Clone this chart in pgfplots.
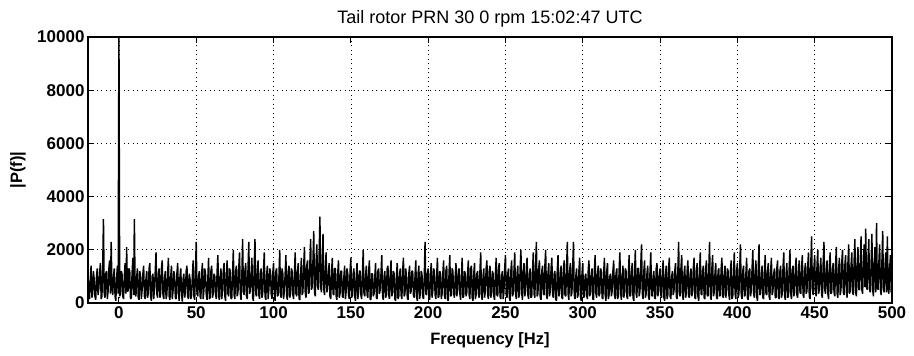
\documentclass[border=0pt]{standalone}
\usepackage{pgfplots}
\pgfplotsset{compat=1.18}
\usepackage{fontspec}
\setmainfont{Liberation Sans}
\begin{document}
\begin{tikzpicture}[x=1pt,y=1pt]
\path[use as bounding box] (0,0) rectangle (914,356);
\begin{axis}[
  at={(88pt,53pt)}, anchor=south west,
  scale only axis, width=804pt, height=266pt,
  xmin=-20, xmax=500, ymin=0, ymax=10000,
  xtick={0,50,...,500}, ytick={0,2000,...,10000},
  scaled y ticks=false,
  grid=major,
  major grid style={black, line width=0.6pt, dash pattern=on 1pt off 3.5pt},
  axis line style={black, line width=1.3pt},
  tick align=inside, major tick length=6pt,
  tick style={black, line width=1pt},
  /pgf/number format/assume math mode=true,
  /pgf/number format/1000 sep={},
  ticklabel style={font=\fontsize{17}{20}\selectfont\bfseries},
  label style={font=\fontsize{16.5}{20}\selectfont\bfseries},
  title style={font=\fontsize{18}{21}\selectfont, at={(axis description cs:0.5,1.044)}, anchor=center},
  title={Tail rotor PRN 30 0 rpm 15:02:47 UTC},
  xlabel={Frequency [Hz]},
  ylabel={|P(f)|},
  xlabel style={at={(axis description cs:0.5,-0.139)}, anchor=center},
  ylabel style={at={(axis description cs:-0.087,0.5)}, anchor=center},
  clip=true,
]
\addplot[black, line width=1.45pt, line join=miter, miter limit=1] table[row sep=\\, header=false, x expr=\coordindex*0.5-20, y index=0] {
1100\\ 450\\ 150\\ 900\\ 1400\\ 200\\ 350\\ 1200\\ 900\\ 250\\ 120\\ 1000\\ 1300\\ 300\\ 550\\ 1100\\ 1500\\ 150\\ 250\\ 1300\\
3150\\ 350\\ 200\\ 1100\\ 1200\\ 150\\ 450\\ 1300\\ 1600\\ 350\\ 2300\\ 550\\ 300\\ 1000\\ 1300\\ 250\\ 80\\ 900\\ 1400\\ 350\\
10500\\ 250\\ 350\\ 1200\\ 1100\\ 250\\ 150\\ 1000\\ 1500\\ 350\\ 2100\\ 450\\ 450\\ 1300\\ 1200\\ 150\\ 200\\ 1100\\ 1700\\ 300\\
3150\\ 350\\ 250\\ 1000\\ 1300\\ 200\\ 120\\ 1200\\ 1000\\ 150\\ 500\\ 1100\\ 1400\\ 250\\ 150\\ 900\\ 1200\\ 200\\ 350\\ 1300\\
1500\\ 250\\ 80\\ 1000\\ 1100\\ 150\\ 550\\ 1200\\ 1900\\ 350\\ 200\\ 1100\\ 1300\\ 200\\ 350\\ 1300\\ 1600\\ 300\\ 150\\ 900\\
1200\\ 150\\ 300\\ 1100\\ 1700\\ 250\\ 120\\ 1000\\ 1400\\ 150\\ 450\\ 1200\\ 1000\\ 200\\ 150\\ 1100\\ 1500\\ 350\\ 80\\ 1000\\
1300\\ 350\\ 50\\ 900\\ 1100\\ 200\\ 400\\ 1200\\ 1400\\ 250\\ 150\\ 1100\\ 900\\ 150\\ 300\\ 1000\\ 1600\\ 250\\ 120\\ 1200\\
2300\\ 350\\ 250\\ 1000\\ 1200\\ 250\\ 150\\ 1100\\ 1500\\ 150\\ 500\\ 1300\\ 1100\\ 300\\ 120\\ 900\\ 1700\\ 150\\ 200\\ 1200\\
1400\\ 200\\ 350\\ 1100\\ 1000\\ 300\\ 150\\ 1200\\ 1800\\ 250\\ 120\\ 1000\\ 1300\\ 150\\ 450\\ 1200\\ 1500\\ 250\\ 80\\ 1100\\
1600\\ 350\\ 250\\ 1300\\ 1200\\ 150\\ 200\\ 1100\\ 2000\\ 300\\ 150\\ 1200\\ 1400\\ 250\\ 400\\ 1300\\ 1900\\ 350\\ 120\\ 1000\\
2400\\ 450\\ 300\\ 1200\\ 1500\\ 250\\ 150\\ 1300\\ 2300\\ 350\\ 450\\ 1100\\ 1700\\ 200\\ 80\\ 1400\\ 2400\\ 350\\ 250\\ 1200\\
1600\\ 300\\ 150\\ 1100\\ 1300\\ 200\\ 350\\ 1200\\ 1900\\ 250\\ 120\\ 1000\\ 1400\\ 150\\ 500\\ 1300\\ 1200\\ 350\\ 150\\ 1100\\
1500\\ 350\\ 80\\ 1200\\ 1300\\ 250\\ 300\\ 1000\\ 2000\\ 300\\ 200\\ 1300\\ 1100\\ 150\\ 450\\ 1100\\ 1800\\ 250\\ 120\\ 1200\\
1400\\ 200\\ 350\\ 1300\\ 1200\\ 300\\ 150\\ 1100\\ 1900\\ 350\\ 250\\ 1200\\ 1500\\ 150\\ 120\\ 1000\\ 1700\\ 300\\ 400\\ 1400\\
2100\\ 400\\ 200\\ 1400\\ 1600\\ 350\\ 400\\ 1500\\ 2400\\ 500\\ 600\\ 1600\\ 2700\\ 400\\ 250\\ 1500\\ 2200\\ 600\\ 500\\ 1800\\
3250\\ 600\\ 400\\ 1500\\ 2600\\ 500\\ 300\\ 1300\\ 1900\\ 400\\ 550\\ 1200\\ 1500\\ 250\\ 150\\ 1100\\ 1700\\ 350\\ 300\\ 1300\\
1300\\ 250\\ 120\\ 1100\\ 1600\\ 200\\ 350\\ 1200\\ 1200\\ 250\\ 200\\ 1000\\ 1400\\ 150\\ 450\\ 1300\\ 1100\\ 300\\ 150\\ 1200\\
1700\\ 200\\ 300\\ 1100\\ 1300\\ 250\\ 80\\ 1000\\ 1500\\ 150\\ 400\\ 1200\\ 1200\\ 300\\ 150\\ 1100\\ 2000\\ 350\\ 250\\ 1000\\
1400\\ 300\\ 200\\ 1200\\ 1600\\ 150\\ 120\\ 1100\\ 1100\\ 250\\ 350\\ 1000\\ 1500\\ 200\\ 150\\ 1200\\ 1300\\ 350\\ 500\\ 1100\\
1800\\ 250\\ 120\\ 1000\\ 1200\\ 200\\ 300\\ 1300\\ 1400\\ 300\\ 150\\ 1100\\ 1600\\ 250\\ 400\\ 1200\\ 1100\\ 150\\ 80\\ 1000\\
1500\\ 150\\ 250\\ 1100\\ 1300\\ 300\\ 150\\ 1200\\ 1700\\ 250\\ 350\\ 1300\\ 1000\\ 200\\ 120\\ 1100\\ 1400\\ 350\\ 450\\ 1200\\
1200\\ 300\\ 200\\ 1000\\ 1600\\ 250\\ 80\\ 1100\\ 1400\\ 150\\ 400\\ 1200\\ 1100\\ 250\\ 150\\ 1000\\ 2300\\ 350\\ 300\\ 1100\\
1300\\ 250\\ 120\\ 1100\\ 1500\\ 200\\ 450\\ 1300\\ 1200\\ 300\\ 150\\ 1000\\ 1700\\ 200\\ 250\\ 1200\\ 1100\\ 150\\ 350\\ 1100\\
1600\\ 300\\ 150\\ 1200\\ 1400\\ 150\\ 80\\ 1100\\ 1800\\ 250\\ 300\\ 1300\\ 1200\\ 350\\ 200\\ 1000\\ 1500\\ 250\\ 450\\ 1200\\
1300\\ 350\\ 120\\ 1000\\ 1700\\ 200\\ 250\\ 1200\\ 1100\\ 250\\ 400\\ 1100\\ 1600\\ 300\\ 150\\ 1300\\ 1400\\ 200\\ 80\\ 1100\\
1500\\ 150\\ 300\\ 1100\\ 1200\\ 350\\ 200\\ 1200\\ 1900\\ 250\\ 120\\ 1000\\ 1300\\ 200\\ 450\\ 1300\\ 1600\\ 300\\ 150\\ 1200\\
1400\\ 200\\ 350\\ 1200\\ 1100\\ 250\\ 120\\ 1100\\ 1700\\ 300\\ 250\\ 1300\\ 1500\\ 250\\ 150\\ 1000\\ 1200\\ 150\\ 400\\ 1300\\
1800\\ 300\\ 200\\ 1100\\ 1300\\ 200\\ 80\\ 1200\\ 1600\\ 250\\ 350\\ 1200\\ 1900\\ 350\\ 150\\ 1100\\ 1400\\ 200\\ 300\\ 1300\\
2000\\ 350\\ 120\\ 1200\\ 1500\\ 250\\ 450\\ 1300\\ 1700\\ 300\\ 150\\ 1100\\ 1300\\ 200\\ 250\\ 1200\\ 1900\\ 350\\ 200\\ 1400\\
2300\\ 250\\ 350\\ 1300\\ 1600\\ 200\\ 120\\ 1200\\ 1400\\ 350\\ 300\\ 1400\\ 2000\\ 300\\ 150\\ 1100\\ 1500\\ 250\\ 450\\ 1300\\
1700\\ 300\\ 200\\ 1100\\ 1200\\ 150\\ 80\\ 1200\\ 1800\\ 250\\ 350\\ 1100\\ 1400\\ 200\\ 150\\ 1300\\ 1600\\ 300\\ 250\\ 1200\\
2300\\ 350\\ 120\\ 1200\\ 1500\\ 250\\ 400\\ 1400\\ 2300\\ 300\\ 150\\ 1000\\ 1300\\ 200\\ 300\\ 1200\\ 1700\\ 250\\ 80\\ 1100\\
1500\\ 200\\ 250\\ 1000\\ 1100\\ 300\\ 150\\ 1200\\ 1600\\ 250\\ 400\\ 1100\\ 1300\\ 150\\ 120\\ 1200\\ 1800\\ 350\\ 200\\ 1100\\
1400\\ 250\\ 350\\ 1300\\ 1200\\ 200\\ 150\\ 1100\\ 1700\\ 300\\ 80\\ 1200\\ 1500\\ 150\\ 300\\ 1000\\ 1100\\ 250\\ 450\\ 1200\\
1600\\ 300\\ 150\\ 1100\\ 1300\\ 150\\ 250\\ 1200\\ 1900\\ 350\\ 120\\ 1000\\ 1400\\ 200\\ 400\\ 1300\\ 1200\\ 250\\ 150\\ 1100\\
1800\\ 250\\ 300\\ 1200\\ 1500\\ 200\\ 80\\ 1100\\ 2000\\ 350\\ 200\\ 1300\\ 1300\\ 250\\ 450\\ 1400\\ 2200\\ 350\\ 150\\ 1200\\
1600\\ 200\\ 350\\ 1100\\ 1400\\ 250\\ 120\\ 1200\\ 1900\\ 300\\ 250\\ 1000\\ 1200\\ 200\\ 150\\ 1300\\ 1500\\ 250\\ 400\\ 1100\\
1300\\ 300\\ 200\\ 1200\\ 1600\\ 200\\ 80\\ 1100\\ 1400\\ 150\\ 300\\ 1300\\ 1700\\ 250\\ 150\\ 1000\\ 1200\\ 300\\ 450\\ 1200\\
1500\\ 250\\ 150\\ 1200\\ 2300\\ 350\\ 250\\ 1300\\ 1800\\ 300\\ 120\\ 1100\\ 1400\\ 200\\ 350\\ 1200\\ 1600\\ 250\\ 200\\ 1100\\
1300\\ 250\\ 400\\ 1300\\ 1700\\ 200\\ 150\\ 1200\\ 1500\\ 250\\ 80\\ 1100\\ 1900\\ 350\\ 300\\ 1200\\ 1400\\ 200\\ 150\\ 1300\\
1600\\ 300\\ 250\\ 1200\\ 2300\\ 350\\ 120\\ 1300\\ 1800\\ 250\\ 400\\ 1100\\ 1500\\ 200\\ 150\\ 1200\\ 1300\\ 250\\ 300\\ 1300\\
1700\\ 250\\ 200\\ 1100\\ 1400\\ 200\\ 450\\ 1300\\ 1200\\ 300\\ 120\\ 1200\\ 1600\\ 150\\ 250\\ 1100\\ 1900\\ 350\\ 150\\ 1200\\
1500\\ 200\\ 350\\ 1300\\ 2200\\ 300\\ 150\\ 1200\\ 1400\\ 250\\ 300\\ 1100\\ 1700\\ 200\\ 120\\ 1200\\ 1300\\ 250\\ 450\\ 1300\\
2000\\ 350\\ 200\\ 1200\\ 1600\\ 250\\ 80\\ 1300\\ 2200\\ 300\\ 350\\ 1100\\ 1400\\ 200\\ 150\\ 1200\\ 1800\\ 350\\ 300\\ 1200\\
1500\\ 250\\ 120\\ 1200\\ 1700\\ 300\\ 450\\ 1100\\ 1300\\ 200\\ 200\\ 1300\\ 1600\\ 250\\ 150\\ 1200\\ 1400\\ 200\\ 350\\ 1300\\
1900\\ 300\\ 120\\ 1100\\ 1500\\ 200\\ 250\\ 1300\\ 2000\\ 350\\ 150\\ 1200\\ 1400\\ 250\\ 400\\ 1300\\ 1700\\ 300\\ 200\\ 1200\\
1600\\ 400\\ 350\\ 1300\\ 1800\\ 300\\ 200\\ 1200\\ 1500\\ 350\\ 450\\ 1400\\ 1900\\ 250\\ 150\\ 1500\\ 2500\\ 500\\ 300\\ 1300\\
1800\\ 400\\ 250\\ 1400\\ 2000\\ 350\\ 500\\ 1300\\ 1700\\ 300\\ 200\\ 1500\\ 2300\\ 500\\ 350\\ 1200\\ 1600\\ 350\\ 150\\ 1400\\
1900\\ 350\\ 400\\ 1300\\ 1500\\ 400\\ 250\\ 1400\\ 2100\\ 350\\ 200\\ 1300\\ 1700\\ 300\\ 500\\ 1500\\ 2000\\ 400\\ 300\\ 1400\\
1800\\ 400\\ 200\\ 1500\\ 2200\\ 350\\ 450\\ 1400\\ 1900\\ 400\\ 300\\ 1600\\ 2400\\ 400\\ 250\\ 1500\\ 2100\\ 500\\ 500\\ 1600\\
2500\\ 500\\ 350\\ 1500\\ 2200\\ 600\\ 2800\\ 600\\ 500\\ 1600\\ 2400\\ 500\\ 400\\ 1500\\ 2600\\ 500\\ 250\\ 1500\\ 2100\\ 400\\
3000\\ 600\\ 500\\ 1500\\ 2200\\ 500\\ 300\\ 1600\\ 2700\\ 500\\ 400\\ 1400\\ 1900\\ 400\\ 2500\\ 600\\ 350\\ 1300\\ 1800\\ 400\\
1200\\
};
\end{axis}
\end{tikzpicture}
\end{document}
